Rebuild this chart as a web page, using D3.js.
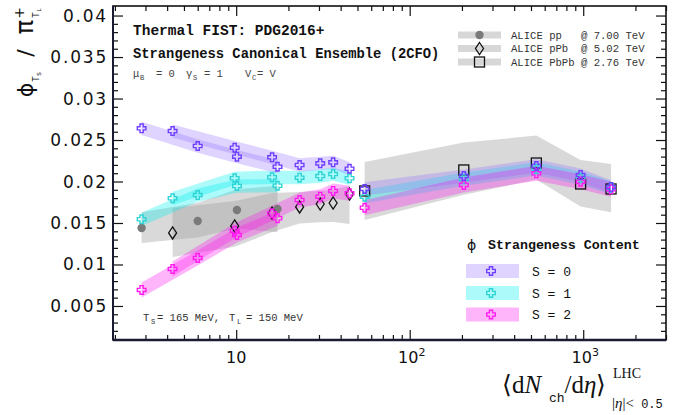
<!DOCTYPE html>
<html><head><meta charset="utf-8">
<script src="https://cdn.jsdelivr.net/npm/d3@7"></script>
<style>body{margin:0;background:#fff;} svg{display:block;} text{white-space:pre;}</style>
</head><body><svg id="c" width="694" height="415"></svg>
<script>
// ---------------- DATA ----------------
// ALICE data: multiplicity <dNch/deta>, phi/pi ratio, systematic band (up/down)
const ppMult = [2.85, 6.0, 10.1, 17.3];
const ppPhi = [0.0144, 0.01524, 0.01657, 0.01669];
const ppErrUp = [0.0019, 0.0022, 0.0025, 0.0028];
const ppErrDown = [0.0018, 0.0020, 0.0022, 0.0028];

const pPbMult = [4.3, 9.8, 16.1, 23.2, 30.5, 36.2, 45.0];
const pPbPhi = [0.0138, 0.01464, 0.0162, 0.01693, 0.01729, 0.01741, 0.01849];
const pPbErrUp = [0.0030, 0.0030, 0.0024, 0.0018, 0.0016, 0.0016, 0.0010];
const pPbErrDown = [0.0029, 0.0025, 0.0023, 0.0020, 0.0022, 0.0023, 0.0036];

const PbPbMult = [55, 205, 537, 966, 1447];
const PbPbPhi = [0.01886, 0.02139, 0.02223, 0.0197, 0.0191];
const PbPbErrUp = [0.0035, 0.0033, 0.0033, 0.0029, 0.0030];
const PbPbErrDown = [0.0035, 0.0030, 0.0020, 0.0027, 0.0028];

// Thermal-FIST model (SCE), strangeness content S = 0, 1, 2
const ppS0 = [0.02641, 0.02428, 0.02299, 0.02178];
const ppS1 = [0.01545, 0.01837, 0.01946, 0.01949];
const ppS2 = [0.00693, 0.01079, 0.01356, 0.01557];
const pPbS0 = [0.02608, 0.02407, 0.02292, 0.02199, 0.02219, 0.02231, 0.02154];
const pPbS1 = [0.01798, 0.02039, 0.02051, 0.02046, 0.02066, 0.0209, 0.02039];
const pPbS2 = [0.00946, 0.01407, 0.01617, 0.01777, 0.01817, 0.01886, 0.01858];
const PbPbS0 = [0.0191, 0.02066, 0.02187, 0.02078, 0.01934];
const PbPbS1 = [0.01817, 0.0203, 0.02151, 0.02042, 0.01922];
const PbPbS2 = [0.01684, 0.01958, 0.02099, 0.01998, 0.01906];
const modelBandHalf = [0.0008, 0.0008, 0.0009];

const seriesLabels = ["S = 0", "S = 1", "S = 2"];
const dataLabels = ["ALICE pp   @ 7.00 TeV", "ALICE pPb  @ 5.02 TeV", "ALICE PbPb @ 2.76 TeV"];
const xMajorTicks = [10, 100, 1000];
const yMajorTicks = [0.005, 0.01, 0.015, 0.02, 0.025, 0.03, 0.035, 0.04];

// ---------------- STYLE ----------------
const strokeCol = ["#7040ff", "#2fd3d3", "#ff1cf0"];
const bandCol = ["#9370ff", "#00f0f0", "#ff10f0"];
const bandOp = [0.3, 0.32, 0.31];

const svg = d3.select("#c");
const X0 = 113, X1 = 666, Y0 = 6, Y1 = 340;
const x = d3.scaleLog().domain([1.95, 3000]).range([X0, X1]);
const y = d3.scaleLinear().domain([0.0009, 0.04115]).range([Y1, Y0]);

svg.append("clipPath").attr("id", "clip").append("rect")
  .attr("x", X0).attr("y", Y0).attr("width", X1 - X0).attr("height", Y1 - Y0);
const g = svg.append("g").attr("clip-path", "url(#clip)");

const systems = [
  {mult: ppMult, phi: ppPhi, up: ppErrUp, dn: ppErrDown, model: [ppS0, ppS1, ppS2], marker: "circle"},
  {mult: pPbMult, phi: pPbPhi, up: pPbErrUp, dn: pPbErrDown, model: [pPbS0, pPbS1, pPbS2], marker: "diamond"},
  {mult: PbPbMult, phi: PbPbPhi, up: PbPbErrUp, dn: PbPbErrDown, model: [PbPbS0, PbPbS1, PbPbS2], marker: "square"}
];

const area = d3.area().x(d => x(d.m)).y0(d => y(d.lo)).y1(d => y(d.hi));

// data systematic bands
systems.forEach(s => {
  const pts = s.mult.map((m, i) => ({m, lo: s.phi[i] - s.dn[i], hi: s.phi[i] + s.up[i]}));
  g.append("path").attr("d", area(pts)).attr("fill", "#a0a0a0").attr("fill-opacity", 0.4);
});
// model bands
[1, 0, 2].forEach(k => {
  systems.forEach(s => {
    const pts = s.mult.map((m, i) => ({m, lo: s.model[k][i] - modelBandHalf[k], hi: s.model[k][i] + modelBandHalf[k]}));
    g.append("path").attr("d", area(pts)).attr("fill", bandCol[k]).attr("fill-opacity", bandOp[k]);
  });
});

function crossPath(a, b) {
  return `M${-b},${-a}H${b}V${-b}H${a}V${b}H${b}V${a}H${-b}V${b}H${-a}V${-b}H${-b}Z`;
}
function drawMarker(sel, type, cx, cy) {
  if (type === "circle") {
    sel.append("circle").attr("cx", cx).attr("cy", cy).attr("r", 4.2).attr("fill", "#7a7a7a");
  } else if (type === "diamond") {
    sel.append("path").attr("d", `M${cx},${cy - 6}L${cx + 4},${cy}L${cx},${cy + 6}L${cx - 4},${cy}Z`)
      .attr("fill", "none").attr("stroke", "#111").attr("stroke-width", 1.3);
  } else {
    sel.append("rect").attr("x", cx - 5).attr("y", cy - 5).attr("width", 10).attr("height", 10)
      .attr("fill", "none").attr("stroke", "#111").attr("stroke-width", 1.3);
  }
}
function drawCross(sel, k, cx, cy) {
  sel.append("path").attr("d", crossPath(4.3, 1.6)).attr("transform", `translate(${cx},${cy})`)
    .attr("fill", "none").attr("stroke", strokeCol[k]).attr("stroke-width", 1.4);
}

// data markers
systems.forEach(s => s.mult.forEach((m, i) => drawMarker(g, s.marker, x(m), y(s.phi[i]))));
// model crosses
[1, 2, 0].forEach(k => systems.forEach(s => s.mult.forEach((m, i) => drawCross(g, k, x(m), y(s.model[k][i])))));

// ---------------- AXES ----------------
const xMinor = [];
[1, 10, 100, 1000].forEach(d => { for (let j = 2; j <= 9; j++) { const v = d * j; if (v >= 1.95 && v <= 3000) xMinor.push(v); } });
const yMinor = d3.range(1, 41).map(i => i * 0.001).filter(v => !yMajorTicks.some(t => Math.abs(t - v) < 1e-9));

function styleAxis(sel) {
  sel.select(".domain").remove();
  sel.selectAll("line").attr("stroke", "#111").attr("stroke-width", 1.2);
  sel.selectAll("text").remove();
}
svg.append("g").attr("transform", `translate(0,${Y1})`).call(d3.axisBottom(x).tickValues(xMajorTicks).tickSize(-10)).call(styleAxis);
svg.append("g").attr("transform", `translate(0,${Y1})`).call(d3.axisBottom(x).tickValues(xMinor).tickSize(-5)).call(styleAxis);
svg.append("g").attr("transform", `translate(0,${Y0})`).call(d3.axisTop(x).tickValues(xMajorTicks).tickSize(-10)).call(styleAxis);
svg.append("g").attr("transform", `translate(0,${Y0})`).call(d3.axisTop(x).tickValues(xMinor).tickSize(-5)).call(styleAxis);
svg.append("g").attr("transform", `translate(${X0},0)`).call(d3.axisLeft(y).tickValues(yMajorTicks).tickSize(-10)).call(styleAxis);
svg.append("g").attr("transform", `translate(${X0},0)`).call(d3.axisLeft(y).tickValues(yMinor).tickSize(-5)).call(styleAxis);
svg.append("g").attr("transform", `translate(${X1},0)`).call(d3.axisRight(y).tickValues(yMajorTicks).tickSize(-10)).call(styleAxis);
svg.append("g").attr("transform", `translate(${X1},0)`).call(d3.axisRight(y).tickValues(yMinor).tickSize(-5)).call(styleAxis);

// frame
svg.append("rect").attr("x", X0).attr("y", Y0).attr("width", X1 - X0).attr("height", Y1 - Y0)
  .attr("fill", "none").attr("stroke", "#111").attr("stroke-width", 1.6);
svg.append("line").attr("x1", X0).attr("x2", X1).attr("y1", Y1).attr("y2", Y1).attr("stroke", "#1a1a33").attr("stroke-width", 2.4);
svg.append("line").attr("x1", X0).attr("x2", X0).attr("y1", Y0).attr("y2", Y1).attr("stroke", "#1a1a33").attr("stroke-width", 2);

// y tick labels
yMajorTicks.forEach(t => {
  svg.append("text").attr("x", 108).attr("y", y(t) + 6).attr("text-anchor", "end")
    .attr("font-family", "DejaVu Sans").attr("font-size", 17).attr("letter-spacing", 1.8).attr("fill", "#111")
    .text(String(t));
});
// x tick labels
xMajorTicks.forEach(t => {
  const tx = svg.append("text").attr("x", x(t) + (t === 10 ? 0 : 2)).attr("y", 363).attr("text-anchor", "middle")
    .attr("font-family", "DejaVu Sans").attr("font-size", 16).attr("fill", "#111");
  tx.append("tspan").text("10");
  const e = Math.round(Math.log10(t));
  if (e > 1) tx.append("tspan").attr("font-size", 11).attr("dy", -7).text(String(e));
});

// x title
const xt = svg.append("text").attr("x", 502).attr("y", 393).attr("font-family", "Liberation Serif").attr("font-size", 25).attr("fill", "#111");
xt.append("tspan").text("⟨d");
xt.append("tspan").attr("font-style", "italic").text("N");
xt.append("tspan").attr("font-family", "Liberation Mono").attr("font-size", 13).attr("dy", 9).text(" ch");
xt.append("tspan").attr("dy", -9).text("/d");
xt.append("tspan").attr("font-style", "italic").text("η");
xt.append("tspan").text("⟩");
svg.append("text").attr("x", 613).attr("y", 378).attr("font-family", "Liberation Serif").attr("font-size", 14).attr("fill", "#111").text("LHC");
const xs = svg.append("text").attr("x", 612).attr("y", 408).attr("font-family", "Liberation Serif").attr("font-size", 15).attr("fill", "#111");
xs.append("tspan").text("|");
xs.append("tspan").attr("font-style", "italic").text("η");
xs.append("tspan").text("|<");
xs.append("tspan").attr("font-family", "Liberation Mono").attr("font-size", 12).text(" 0.5");

// y title (rotated pieces)
function rtext(cx, cy, txt, size, opts = {}) {
  const t = svg.append("text").attr("transform", `translate(${cx},${cy}) rotate(-90)`)
    .attr("text-anchor", "middle").attr("font-family", opts.family || "DejaVu Sans").attr("font-size", size).attr("fill", "#111").text(txt);
  return t;
}
rtext(33, 90, "ϕ", 22);
rtext(39, 79, "T", 8);
rtext(41, 74, "S", 5.5);
rtext(33, 53, "/", 22);
rtext(33, 27, "π", 24);
rtext(24, 13, "+", 14);
rtext(39, 15, "T", 8);
rtext(41, 10, "L", 5.5);

// top-left annotations
const mono = "Liberation Mono";
svg.append("text").attr("x", 133).attr("y", 35).attr("font-family", mono).attr("font-weight", "bold").attr("font-size", 14.5).attr("fill", "#111").text("Thermal FIST: PDG2016+");
svg.append("text").attr("x", 133).attr("y", 58).attr("font-family", mono).attr("font-weight", "bold").attr("font-size", 13.8).attr("fill", "#111").text("Strangeness Canonical Ensemble (2CFO)");
const mu = svg.append("text").attr("y", 77).attr("font-family", mono).attr("font-size", 10.5).attr("fill", "#444");
mu.append("tspan").attr("x", 133).text("μ");
mu.append("tspan").attr("x", 140).attr("dy", 3).attr("font-size", 7).text("B");
mu.append("tspan").attr("x", 156).attr("dy", -3).text("= 0");
mu.append("tspan").attr("x", 186).text("γ");
mu.append("tspan").attr("x", 193).attr("dy", 3).attr("font-size", 7).text("S");
mu.append("tspan").attr("x", 204).attr("dy", -3).text("= 1");
mu.append("tspan").attr("x", 245).text("V");
mu.append("tspan").attr("x", 252).attr("dy", 3).attr("font-size", 7).text("C");
mu.append("tspan").attr("x", 257).attr("dy", -3).text("= V");

const tt = svg.append("text").attr("y", 321).attr("font-family", mono).attr("font-size", 10.5).attr("fill", "#333");
tt.append("tspan").attr("x", 143).text("T");
tt.append("tspan").attr("x", 151).attr("dy", 3).attr("font-size", 7).text("S");
tt.append("tspan").attr("x", 157).attr("dy", -3).text("= 165 MeV,");
tt.append("tspan").attr("x", 229).text("T");
tt.append("tspan").attr("x", 237).attr("dy", 3).attr("font-size", 7).text("L");
tt.append("tspan").attr("x", 246).attr("dy", -3).text("= 150 MeV");

// top-right data legend
const markerTypes = ["circle", "diamond", "square"];
const dlY = [35, 48.5, 62];
dataLabels.forEach((lab, i) => {
  svg.append("rect").attr("x", 458).attr("y", dlY[i] - 3.5).attr("width", 43).attr("height", 7).attr("fill", "#d7d7d7");
  drawMarker(svg, markerTypes[i], 479.5, dlY[i]);
  svg.append("text").attr("x", 511).attr("y", dlY[i] + 3.5).attr("font-family", mono).attr("font-size", 10.6).attr("fill", "#333").text(lab);
});

// bottom-right model legend
svg.append("text").attr("x", 467).attr("y", 250).attr("font-family", "DejaVu Sans").attr("font-size", 14).attr("fill", "#111").text("ϕ");
svg.append("text").attr("x", 488).attr("y", 249).attr("font-family", mono).attr("font-weight", "bold").attr("font-size", 13.3).attr("fill", "#111").text("Strangeness Content");
const slY = [271, 293, 314.5];
seriesLabels.forEach((lab, k) => {
  svg.append("rect").attr("x", 466).attr("y", slY[k] - 7).attr("width", 53).attr("height", 14)
    .attr("fill", bandCol[k]).attr("fill-opacity", bandOp[k]);
  drawCross(svg, k, 491, slY[k]);
  svg.append("text").attr("x", 532).attr("y", slY[k] + 4.5).attr("font-family", mono).attr("font-size", 13).attr("fill", "#111").text(lab);
});
</script></body></html>
